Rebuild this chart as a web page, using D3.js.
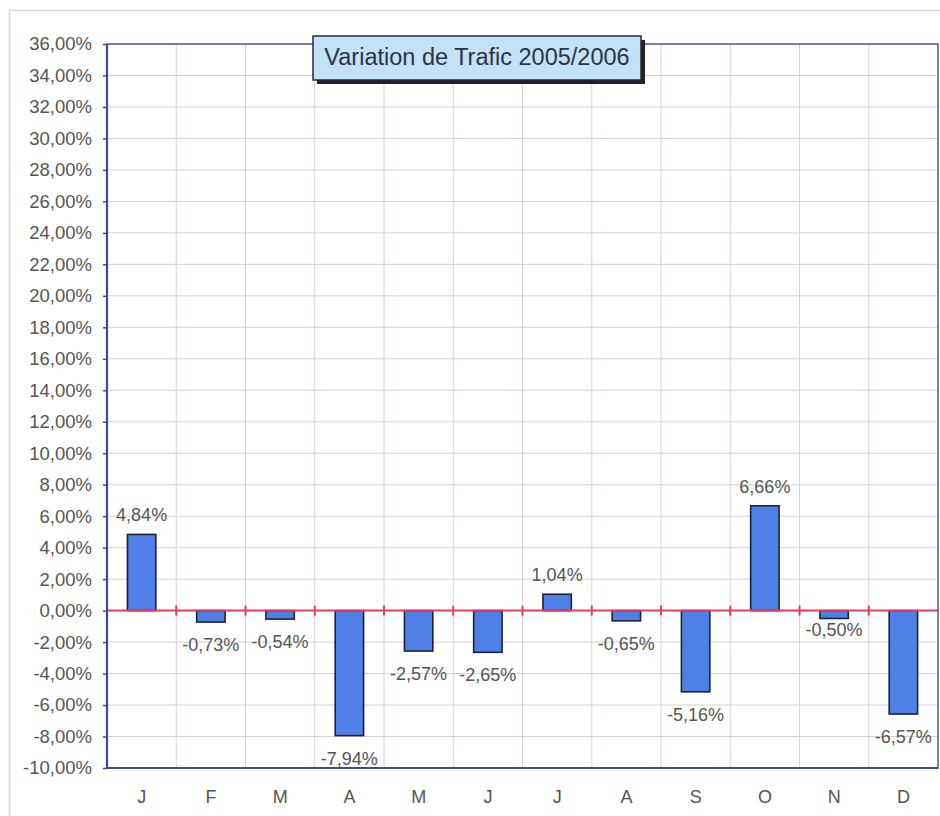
<!DOCTYPE html>
<html><head><meta charset="utf-8">
<script src="https://cdn.jsdelivr.net/npm/d3@7"></script>
<style>body{margin:0;background:#fff}svg{display:block}</style>
</head><body><svg id="c" width="940" height="816"></svg>
<script>
const months = ["J","F","M","A","M","J","J","A","S","O","N","D"];
const values = [4.84,-0.73,-0.54,-7.94,-2.57,-2.65,1.04,-0.65,-5.16,6.66,-0.50,-6.57];
const yTicks = d3.range(-10, 37, 2);
const title = "Variation de Trafic 2005/2006";

const loc = d3.formatLocale({decimal:",", thousands:" ", grouping:[3], currency:["","€"], minus:"-"});
const fmt = d => loc.format(".2f")(d) + "%";

const svg = d3.select("#c");
const L = 107, R = 938, T = 44, B = 768;
const font = "'Liberation Sans', Arial, sans-serif";

// outer frame
svg.append("rect").attr("x",9.5).attr("y",10.5).attr("width",960).attr("height",900)
  .attr("fill","#fff").attr("stroke","#dcd4dc").attr("stroke-width",1.5);

const x = d3.scaleBand().domain(d3.range(months.length)).range([L,R]).padding(0);
const y = d3.scaleLinear().domain([-10,36]).range([B,T]);
const bw = x.bandwidth()*0.41;

// gridlines
svg.append("g").selectAll("line.h").data(yTicks).join("line")
  .attr("x1",L).attr("x2",R).attr("y1",d=>y(d)).attr("y2",d=>y(d))
  .attr("stroke","#d6d0d6").attr("stroke-width",1);
svg.append("g").selectAll("line.v").data(d3.range(1,months.length)).join("line")
  .attr("x1",d=>x(d)).attr("x2",d=>x(d)).attr("y1",T).attr("y2",B)
  .attr("stroke","#e2ccd8").attr("stroke-width",1);

// bars
svg.append("g").selectAll("rect").data(values).join("rect")
  .attr("x",(d,i)=>x(i)+(x.bandwidth()-bw)/2)
  .attr("y",d=>y(Math.max(0,d)))
  .attr("width",bw)
  .attr("height",d=>Math.abs(y(d)-y(0)))
  .attr("fill","#4f80e8").attr("stroke","#1c2238").attr("stroke-width",1.6);

// zero line with ticks
svg.append("line").attr("x1",L).attr("x2",R).attr("y1",y(0)).attr("y2",y(0))
  .attr("stroke","#e0405e").attr("stroke-width",2);
svg.append("g").selectAll("line").data(d3.range(1,months.length)).join("line")
  .attr("x1",d=>x(d)).attr("x2",d=>x(d)).attr("y1",y(0)-5).attr("y2",y(0)+5)
  .attr("stroke","#e0405e").attr("stroke-width",2);

// plot border (top/right) and axes
svg.append("rect").attr("x",L).attr("y",T).attr("width",R-L).attr("height",B-T)
  .attr("fill","none").attr("stroke","#4a5aa0").attr("stroke-width",1.5);
svg.append("line").attr("x1",L).attr("x2",L).attr("y1",T).attr("y2",B)
  .attr("stroke","#3e4c90").attr("stroke-width",2.2);
svg.append("line").attr("x1",L).attr("x2",R).attr("y1",B).attr("y2",B)
  .attr("stroke","#3e4c90").attr("stroke-width",2.2);

// y axis
const yAxis = d3.axisLeft(y).tickValues(yTicks).tickFormat(fmt).tickSize(4).tickPadding(11);
const ga = svg.append("g").attr("transform",`translate(${L},0)`).call(yAxis);
ga.select(".domain").remove();
ga.selectAll(".tick line").attr("stroke","#3e4c90").attr("stroke-width",1.5);
ga.selectAll(".tick text").attr("font-family",font).attr("font-size",18.5).attr("fill","#555");

// x axis labels
const xAxis = d3.axisBottom(x).tickFormat(i=>months[i]).tickSize(0).tickPadding(22);
const gx = svg.append("g").attr("transform",`translate(0,${B})`).call(xAxis);
gx.select(".domain").remove();
gx.selectAll(".tick text").attr("font-family",font).attr("font-size",18).attr("fill","#555");

// data labels
svg.append("g").selectAll("text").data(values).join("text")
  .attr("x",(d,i)=>x(i)+x.bandwidth()/2)
  .attr("y",(d,i)=> d>=0 ? y(d)-13 : y(d) + (i===10 ? 18 : 29))
  .attr("text-anchor","middle")
  .attr("font-family",font).attr("font-size",18).attr("fill","#555")
  .text(fmt);

// title box
const tb = {x:313, y:36, w:328, h:44};
svg.append("rect").attr("x",tb.x+4).attr("y",tb.y+4).attr("width",tb.w).attr("height",tb.h).attr("fill","#222");
svg.append("rect").attr("x",tb.x).attr("y",tb.y).attr("width",tb.w).attr("height",tb.h)
  .attr("fill","#c2e2fa").attr("stroke","#262a3a").attr("stroke-width",1.5);
svg.append("text").attr("x",tb.x+tb.w/2).attr("y",tb.y+29).attr("text-anchor","middle")
  .attr("font-family",font).attr("font-size",23.5).attr("fill","#2c3446").text(title);
</script></body></html>
